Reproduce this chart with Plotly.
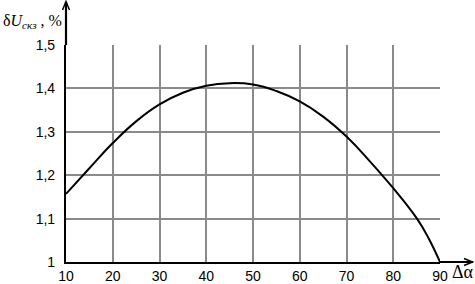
import plotly.graph_objects as go

# Data
delta_alpha = [10, 15, 20, 25, 30, 35, 40, 45, 50, 55, 60, 65, 70, 75, 80, 85, 87.5, 90]
delta_u = [1.157, 1.216, 1.274, 1.324, 1.363, 1.390, 1.406, 1.412, 1.409, 1.394,
           1.370, 1.335, 1.289, 1.232, 1.170, 1.101, 1.056, 1.0]
x_ticks = [10, 20, 30, 40, 50, 60, 70, 80, 90]
y_ticks = [1.0, 1.1, 1.2, 1.3, 1.4, 1.5]

W, H = 475, 284
L, R, T, B = 66, 35, 45, 22
pw, ph = W - L - R, H - T - B


def px(xp):
    return (xp - L) / pw


def py(yp):
    return (H - B - yp) / ph


fig = go.Figure()
fig.add_trace(go.Scatter(
    x=delta_alpha, y=delta_u, mode="lines",
    line=dict(color="black", width=2, shape="spline", smoothing=1.3),
    hoverinfo="skip", showlegend=False, cliponaxis=False,
))

grid_col = "#8a8a8a"
tick_font = dict(family="Liberation Sans, Arial", size=14, color="black")
fig.update_xaxes(range=[10, 90], tickvals=x_ticks, showgrid=True, gridcolor=grid_col,
                 gridwidth=1.6, zeroline=False, showline=True, linecolor="black",
                 linewidth=2.2, ticks="", automargin=False, tickfont=tick_font,
                 mirror=False)
fig.update_yaxes(range=[1.0, 1.5], tickvals=y_ticks, showgrid=True, gridcolor=grid_col,
                 gridwidth=1.6, zeroline=False, showline=True, linecolor="black",
                 linewidth=2.2, ticks="", automargin=False, ticklabelstandoff=6,
                 tickfont=tick_font, mirror=False)

shapes = [
    dict(type="line", xref="paper", yref="paper", layer="above",
         x0=0, y0=1, x1=0, y1=py(2), line=dict(color="black", width=2.2)),
    dict(type="path", xref="paper", yref="paper", layer="above",
         path=f"M{px(62.5)},{py(10)} L{px(66)},{py(1.5)} L{px(69.5)},{py(10)}",
         line=dict(color="black", width=1.5)),
    dict(type="line", xref="paper", yref="paper", layer="above",
         x0=1, y0=0, x1=px(473), y1=0, line=dict(color="black", width=2.2)),
    dict(type="path", xref="paper", yref="paper", layer="above",
         path=f"M{px(464)},{py(258.5)} L{px(472.5)},{py(262)} L{px(464)},{py(265.5)}",
         line=dict(color="black", width=1.5)),
]

annotations = [
    dict(xref="paper", yref="paper", x=px(1), y=py(21), xanchor="left", yanchor="middle",
         text="δ<i>U</i><sub><i>скз</i></sub> , %", showarrow=False,
         font=dict(family="Liberation Serif, Times New Roman", size=16, color="black")),
    dict(xref="paper", yref="paper", x=px(450), y=py(272), xanchor="left", yanchor="middle",
         text="Δα", showarrow=False,
         font=dict(family="Liberation Serif, Times New Roman", size=18, color="black")),
]

fig.update_layout(
    width=W, height=H, margin=dict(l=L, r=R, t=T, b=B, autoexpand=False),
    plot_bgcolor="white", paper_bgcolor="white",
    separators=", ", annotations=annotations, shapes=shapes,
)

fig.write_html("out.html", config={"displayModeBar": False},
               post_script="document.body.style.margin='0';")
